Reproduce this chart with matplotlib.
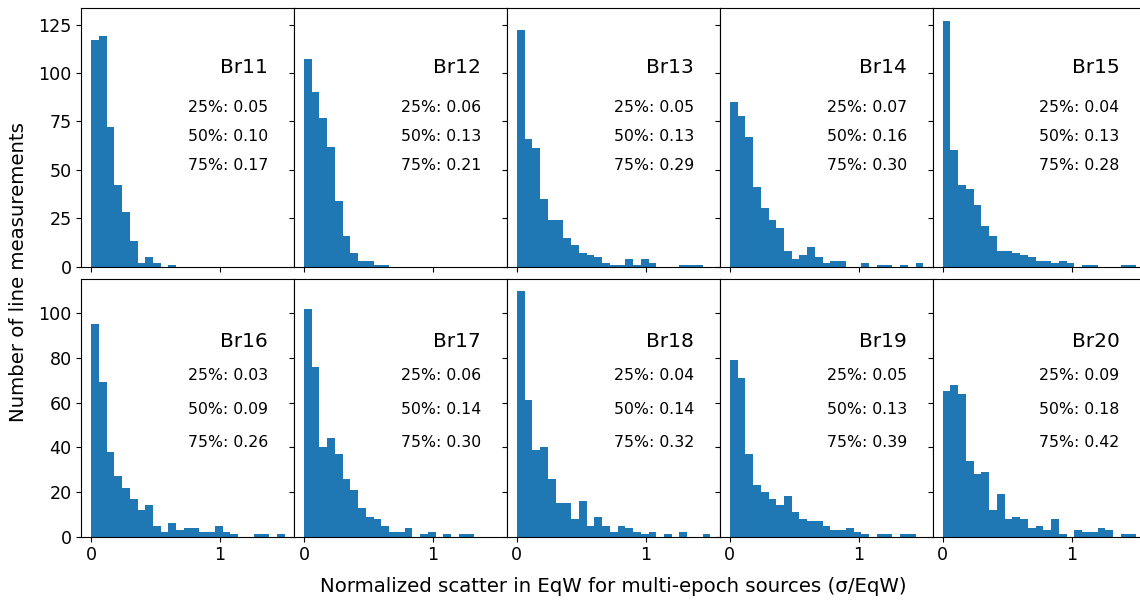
import numpy as np
import matplotlib
matplotlib.use("Agg")
import matplotlib.pyplot as plt

# bin edges: 25 bins between 0 and 1.5
bin_lo = 0.0
bin_hi = 1.5
n_bins = 25

lines = ["Br11", "Br12", "Br13", "Br14", "Br15",
         "Br16", "Br17", "Br18", "Br19", "Br20"]

counts = {
    "Br11": [117, 119, 72, 42, 28, 13, 2, 5, 2, 0, 1, 0, 0, 0, 0, 0, 0, 0, 0, 0, 0, 0, 0, 0, 0],
    "Br12": [107, 90, 77, 62, 34, 16, 7, 3, 3, 1, 1, 0, 0, 0, 0, 0, 0, 0, 0, 0, 0, 0, 0, 0, 0],
    "Br13": [122, 66, 61, 35, 24, 24, 15, 11, 7, 6, 5, 2, 1, 1, 4, 1, 4, 2, 0, 0, 0, 1, 1, 1, 0],
    "Br14": [85, 78, 67, 41, 30, 24, 20, 8, 4, 6, 10, 5, 2, 3, 3, 0, 0, 2, 0, 1, 1, 0, 1, 0, 2],
    "Br15": [127, 60, 42, 40, 32, 21, 16, 8, 8, 7, 6, 5, 3, 3, 2, 3, 2, 0, 1, 1, 0, 0, 0, 1, 1],
    "Br16": [95, 69, 38, 27, 22, 17, 12, 14, 5, 2, 6, 3, 4, 4, 2, 2, 5, 2, 1, 0, 0, 1, 1, 0, 1],
    "Br17": [102, 76, 40, 44, 37, 26, 21, 13, 9, 8, 5, 2, 2, 4, 0, 1, 2, 0, 1, 0, 1, 1, 0, 0, 0],
    "Br18": [110, 61, 39, 40, 26, 15, 15, 8, 16, 5, 9, 5, 2, 5, 4, 2, 1, 2, 0, 1, 0, 2, 0, 0, 1],
    "Br19": [79, 71, 37, 23, 20, 17, 14, 18, 11, 8, 7, 7, 5, 3, 3, 4, 2, 1, 0, 1, 1, 0, 1, 1, 0],
    "Br20": [65, 68, 64, 34, 28, 29, 12, 19, 8, 9, 8, 4, 5, 3, 8, 1, 0, 3, 2, 2, 4, 3, 0, 1, 1],
}

quartiles = {
    "Br11": [0.05, 0.10, 0.17],
    "Br12": [0.06, 0.13, 0.21],
    "Br13": [0.05, 0.13, 0.29],
    "Br14": [0.07, 0.16, 0.30],
    "Br15": [0.04, 0.13, 0.28],
    "Br16": [0.03, 0.09, 0.26],
    "Br17": [0.06, 0.14, 0.30],
    "Br18": [0.04, 0.14, 0.32],
    "Br19": [0.05, 0.13, 0.39],
    "Br20": [0.09, 0.18, 0.42],
}
pct_labels = ["25%", "50%", "75%"]

# text baselines (data units) per row
name_y = [100, 85]
pct_y = [[80, 65, 50], [70, 55, 40]]

edges = np.linspace(bin_lo, bin_hi, n_bins + 1)
width = edges[1] - edges[0]

fig, axes = plt.subplots(2, 5, figsize=(11.4, 6), dpi=100,
                         sharex="all", sharey="row")
fig.subplots_adjust(left=0.0714, right=1.0052, bottom=0.1055, top=0.986,
                    wspace=0, hspace=0.0466)

for i, name in enumerate(lines):
    row, col = divmod(i, 5)
    ax = axes[row, col]
    ax.bar(edges[:-1], counts[name], width=width, align="edge",
           color="#1f77b4", linewidth=0)
    ax.text(1.0, name_y[row], name, fontsize=14.5, ha="left", va="baseline")
    for lab, q, y in zip(pct_labels, quartiles[name], pct_y[row]):
        ax.text(0.75, y, f"{lab}: {q:.2f}", fontsize=11.3, ha="left",
                va="baseline")
    ax.tick_params(labelsize=12.6)

axes[0, 0].set_xlim(-0.075, 1.575)
axes[0, 0].set_xticks([0, 1])
axes[0, 0].set_yticks([0, 25, 50, 75, 100, 125])
axes[0, 0].set_ylim(0, 133.4)
axes[1, 0].set_yticks([0, 20, 40, 60, 80, 100])
axes[1, 0].set_ylim(0, 115.5)

fig.text(0.538, 0.022,
         "Normalized scatter in EqW for multi-epoch sources (σ/EqW)",
         ha="center", va="center", fontsize=14.2)
fig.text(0.016, 0.547, "Number of line measurements", rotation=90,
         ha="center", va="center", fontsize=14.2)

fig.savefig("out.png", dpi=100)
